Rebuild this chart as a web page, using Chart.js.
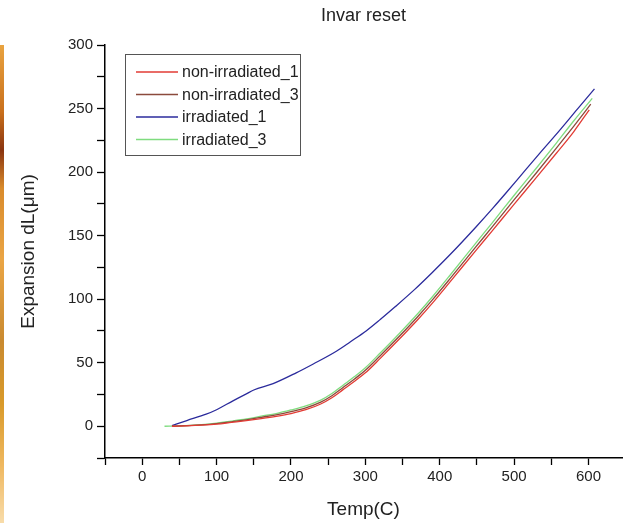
<!DOCTYPE html>
<html lang="en">
<head>
    <meta charset="UTF-8" />
    <title>Invar reset</title>
    <script src="https://cdn.jsdelivr.net/npm/chart.js@4.4.0/dist/chart.umd.min.js"></script>
    <style>
        body { margin: 0; background: #fff; }
        .wrap { position: relative; width: 623px; height: 523px; }
        .strip {
            position: absolute; left: 0; top: 45px; width: 4px; height: 478px;
            background: linear-gradient(to bottom, #e9a340 0%, #c9701c 14%, #8a3510 22%, #d98b2c 30%,
                #eaa545 45%, #c98a30 62%, #d99a2a 75%, #efb860 88%, #f8dcaa 100%);
        }
    </style>
</head>
<body>
    <div class="wrap">
        <canvas id="invarChart" width="623" height="523"></canvas>
        <div class="strip"></div>
    </div>

    <script>
        // Datos (Temp en C, dL en um)
        const seriesNames = ['non-irradiated_1', 'non-irradiated_3', 'irradiated_1', 'irradiated_3'];
        const seriesColors = ['#e23b34', '#8b4a3c', '#2b2b9c', '#7fdc7f'];

        const tempNonIrr1 = [40, 60, 80, 100, 120, 140, 160, 180, 200, 220, 240, 255, 270, 285, 300, 320, 346, 370, 391, 413, 449, 470, 499, 530, 557, 580, 601];
        const dLNonIrr1   = [0, 0.3, 0.8, 1.6, 3, 4.4, 6, 7.8, 10, 13, 17.5, 22.4, 28.8, 35.2, 42, 53.4, 68.8, 83.6, 97.5, 113, 138.6, 153.4, 174, 195.8, 215, 231.7, 249];

        const tempNonIrr3 = [40, 60, 80, 100, 120, 140, 160, 180, 200, 220, 240, 255, 270, 285, 300, 320, 346, 370, 391, 413, 449, 470, 499, 530, 557, 580, 603];
        const dLNonIrr3   = [0, 0.5, 1, 2, 3.5, 5, 7, 9, 11.5, 14.5, 19, 24, 30.5, 37, 44, 55.5, 71, 86, 100, 115.5, 141.5, 156.5, 177.5, 199.5, 219, 236, 253.5];

        const tempIrr1 = [40, 60, 86, 100, 122, 140, 150, 176, 207, 230, 261, 280, 301, 320, 340, 366, 390, 413, 449, 472, 489, 510, 534, 560, 585, 608];
        const dLIrr1   = [0.5, 4.5, 9.5, 13, 20, 25.5, 28.5, 33.5, 42, 49, 59, 66.5, 75, 84, 94, 107.5, 121, 134.5, 157, 172, 183.5, 198, 214.5, 232, 249.5, 265.5];

        const tempIrr3 = [30, 50, 80, 100, 120, 140, 160, 180, 200, 220, 240, 255, 270, 285, 300, 320, 346, 370, 391, 413, 449, 470, 499, 530, 557, 580, 605];
        const dLIrr3   = [0, 0.3, 1.3, 2.5, 4, 5.7, 7.9, 10, 12.8, 16, 20.5, 25.7, 32.3, 38.9, 46, 57.6, 73.2, 88.3, 102.5, 118.2, 144.5, 159.7, 181, 203.2, 223, 240.2, 258];

        const xTickStep = 50, yTickStep = 25;

        const toPoints = (xs, ys) => xs.map((x, i) => ({ x: x, y: ys[i] }));
        const allTemps = [tempNonIrr1, tempNonIrr3, tempIrr1, tempIrr3];
        const allDL = [dLNonIrr1, dLNonIrr3, dLIrr1, dLIrr3];

        const FONT = "'Liberation Sans', Arial, sans-serif";

        // Leyenda con recuadro dentro del area del grafico
        const boxLegend = {
            id: 'boxLegend',
            afterDraw(chart) {
                const ctx = chart.ctx;
                const x0 = 125, y0 = 54, w = 175, h = 101;
                ctx.save();
                ctx.fillStyle = '#fff';
                ctx.fillRect(x0, y0, w, h);
                ctx.strokeStyle = '#555';
                ctx.lineWidth = 1;
                ctx.strokeRect(x0 + 0.5, y0 + 0.5, w, h);
                ctx.font = '16px ' + FONT;
                ctx.textBaseline = 'middle';
                chart.data.datasets.forEach((ds, i) => {
                    const y = 72 + i * 22.5;
                    ctx.strokeStyle = ds.borderColor;
                    ctx.lineWidth = 1.5;
                    ctx.beginPath();
                    ctx.moveTo(136, y);
                    ctx.lineTo(178, y);
                    ctx.stroke();
                    ctx.fillStyle = '#222';
                    ctx.fillText(ds.label, 182, y + 1);
                });
                ctx.restore();
            }
        };

        new Chart(document.getElementById('invarChart'), {
            type: 'line',
            data: {
                datasets: seriesNames.map((name, i) => ({
                    label: name,
                    data: toPoints(allTemps[i], allDL[i]),
                    borderColor: seriesColors[i],
                    borderWidth: 1.3,
                    pointRadius: 0,
                    fill: false,
                    cubicInterpolationMode: 'monotone'
                }))
            },
            options: {
                responsive: false,
                animation: false,
                devicePixelRatio: 1,
                layout: { padding: { left: 0, right: 1, top: 0, bottom: 0 } },
                plugins: {
                    legend: { display: false },
                    tooltip: { enabled: false },
                    title: {
                        display: true,
                        text: 'Invar reset',
                        fullSize: false,
                        color: '#222',
                        font: { family: FONT, size: 18, weight: 'normal' },
                        padding: { top: 5, bottom: 18.4 }
                    }
                },
                scales: {
                    x: {
                        type: 'linear',
                        min: -50,
                        max: 645,
                        afterFit: s => { s.height = 65; },
                        border: { display: true, color: '#000', width: 1.5 },
                        grid: { drawOnChartArea: false, drawTicks: true, tickLength: 7, tickColor: '#000', tickWidth: 1.3 },
                        ticks: {
                            stepSize: xTickStep,
                            includeBounds: false,
                            autoSkip: false,
                            maxRotation: 0,
                            padding: 3,
                            color: '#222',
                            font: { family: FONT, size: 15 },
                            callback: v => (v % 100 === 0 ? v : '')
                        },
                        title: {
                            display: true,
                            text: 'Temp(C)',
                            color: '#222',
                            font: { family: FONT, size: 19 },
                            padding: { top: 0, bottom: 2 }
                        }
                    },
                    y: {
                        min: -25,
                        max: 300,
                        afterFit: s => { s.width = 105; },
                        border: { display: true, color: '#000', width: 1.5 },
                        grid: { drawOnChartArea: false, drawTicks: true, tickLength: 8, tickColor: '#000', tickWidth: 1.3 },
                        ticks: {
                            stepSize: yTickStep,
                            autoSkip: false,
                            padding: 4,
                            color: '#222',
                            font: { family: FONT, size: 15 },
                            callback: v => (v % 50 === 0 ? v : '')
                        },
                        title: {
                            display: true,
                            text: 'Expansion dL(\u03bcm)',
                            color: '#222',
                            font: { family: FONT, size: 19 },
                            padding: { top: 17, bottom: 0 }
                        }
                    }
                }
            },
            plugins: [boxLegend]
        });
    </script>
</body>
</html>
